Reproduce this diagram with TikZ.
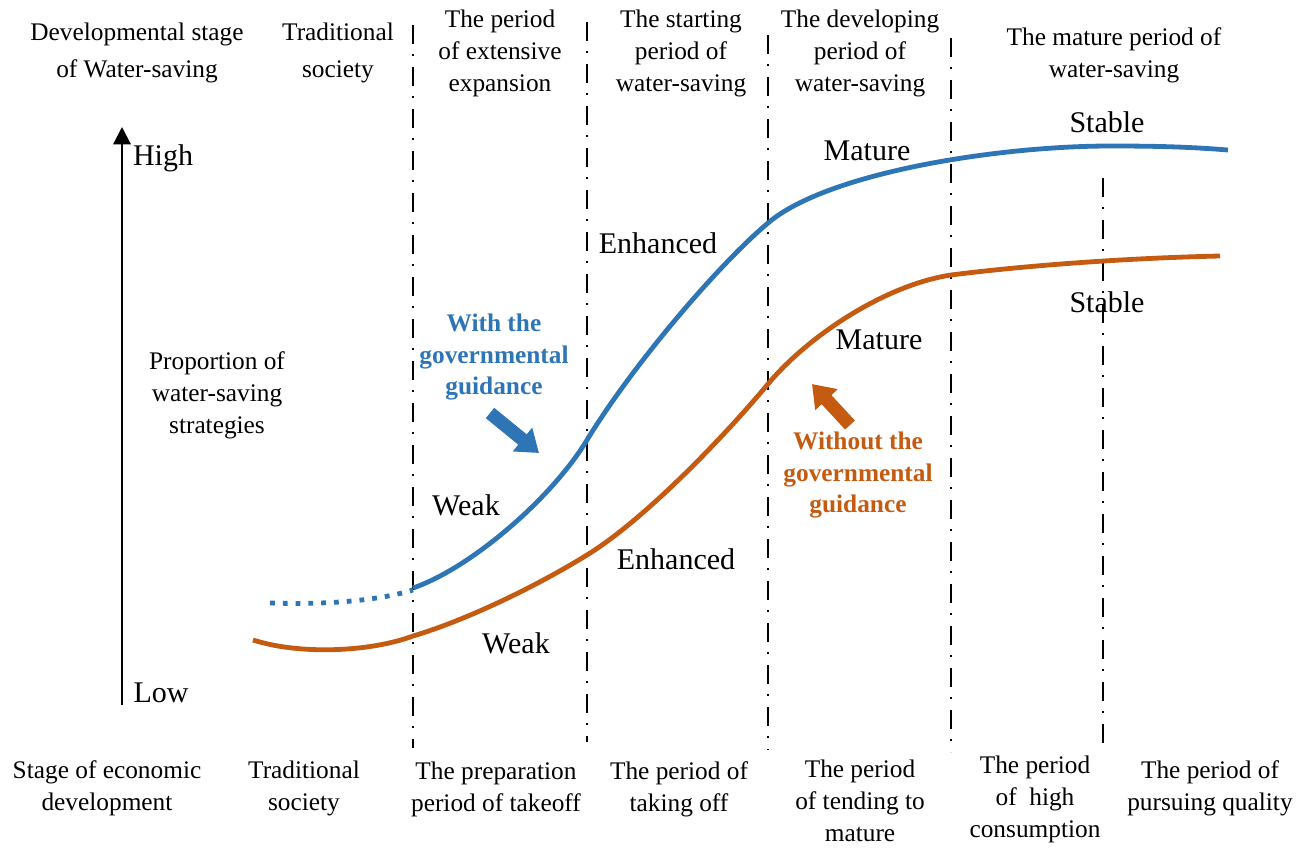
\documentclass[tikz,border=0pt]{standalone}
\usepackage{fontspec}
\setmainfont{Liberation Serif}
\usetikzlibrary{arrows.meta}
\definecolor{wsblue}{RGB}{46,117,182}
\definecolor{wsorange}{RGB}{197,90,17}
\begin{document}
\begin{tikzpicture}[x=0.75pt,y=-0.75pt,
  hdr/.style={align=center, font=\fontsize{19}{24}\selectfont, inner sep=0pt},
  hdrwide/.style={align=center, font=\fontsize{19}{28}\selectfont, inner sep=0pt},
  lbl/.style={font=\fontsize{22.5}{27}\selectfont, inner sep=0pt},
  note/.style={align=center, font=\fontsize{19}{23.5}\selectfont\bfseries, inner sep=0pt},
  guide/.style={line width=1.8pt, dash pattern=on 14pt off 8pt on 1.5pt off 8pt},
  curve/.style={line width=3.6pt},
  fat/.style={line width=10pt, -{Triangle[width=22pt,length=16pt]}}
]
\useasboundingbox (0,0) rectangle (1303,847);

% guide lines
\draw[guide] (413,25) -- (413,748);
\draw[guide] (587,22) -- (587,742);
\draw[guide] (768,35) -- (768,750);
\draw[guide] (951,38) -- (951,752);
\draw[guide] (1103,178) -- (1103,752);

% vertical axis
\coordinate (axlow) at (122,705);
\coordinate (axhigh) at (122,127);
\draw[line width=1.6pt, -{Triangle[width=13pt,length=13pt]}] (axlow) -- (axhigh);
\node[lbl] (high) at (163,158) {High};
\node[lbl] (low) at (161,693) {Low};

% blue curve
\draw[curve, wsblue, dash pattern=on 3.6pt off 6pt]
  (270,603) .. controls (330,605) and (380,600) .. (413,590);
\draw[curve, wsblue]
  (413,588) .. controls (471,568) and (552,498) .. (587,440)
  .. controls (632,366) and (718,265) .. (768,223)
  .. controls (828,172) and (1000,146) .. (1110,146)
  .. controls (1160,146) and (1190,147) .. (1228,150);
% orange curve
\draw[curve, wsorange]
  (253,640) .. controls (300,655) and (370,652) .. (413,636)
  .. controls (470,619) and (540,584) .. (587,555)
  .. controls (647,518) and (728,432) .. (768,384)
  .. controls (808,336) and (885,285) .. (951,275)
  .. controls (1030,265) and (1130,258) .. (1220,256);

% top headers
\node[hdrwide] (t1) at (137,53) {Developmental stage\\of Water-saving};
\node[hdrwide] (t2) at (338,53) {Traditional\\society};
\node[hdr] (t3) at (500,53) {The period\\of extensive\\expansion};
\node[hdr] (t4) at (681,53) {The starting\\period of\\water-saving};
\node[hdr] (t5) at (860,53) {The developing\\period of\\water-saving};
\node[hdr] (t6) at (1114,55) {The mature period of\\water-saving};

% bottom headers
\node[hdr] (b1) at (107,788) {Stage of economic\\development};
\node[hdr] (b2) at (304,788) {Traditional\\society};
\node[hdr] (b3) at (496,789) {The preparation\\period of takeoff};
\node[hdr] (b4) at (679,789) {The period of\\taking off};
\node[hdr] (b5) at (860,801) {The period\\of tending to\\mature};
\node[hdr] (b6) at (1035,799) {The period\\of~ high\\consumption};
\node[hdr] (b7) at (1210,788) {The period of\\pursuing quality};

% middle text
\node[hdr] (prop) at (217,395) {Proportion of\\water-saving\\strategies};
\node[note, text=wsblue] (withg) at (494,357) {With the\\governmental\\guidance};
\node[note, text=wsorange] (without) at (858,475) {Without the\\governmental\\guidance};

% fat arrows
\coordinate (ba1) at (490,413);
\coordinate (ba2) at (539,453);
\draw[fat, wsblue] (ba1) -- (ba2);
\coordinate (oa1) at (850,425);
\coordinate (oa2) at (812,384);
\draw[fat, wsorange] (oa1) -- (oa2);

% curve labels
\node[lbl] (bweak) at (466,505) {Weak};
\node[lbl] (oweak) at (516,643) {Weak};
\node[lbl] (benh) at (658,243) {Enhanced};
\node[lbl] (oenh) at (676,559) {Enhanced};
\node[lbl] (bmat) at (867,151) {Mature};
\node[lbl] (omat) at (879,340) {Mature};
\node[lbl] (bstab) at (1107,122) {Stable};
\node[lbl] (ostab) at (1107,302) {Stable};
\end{tikzpicture}
\end{document}
